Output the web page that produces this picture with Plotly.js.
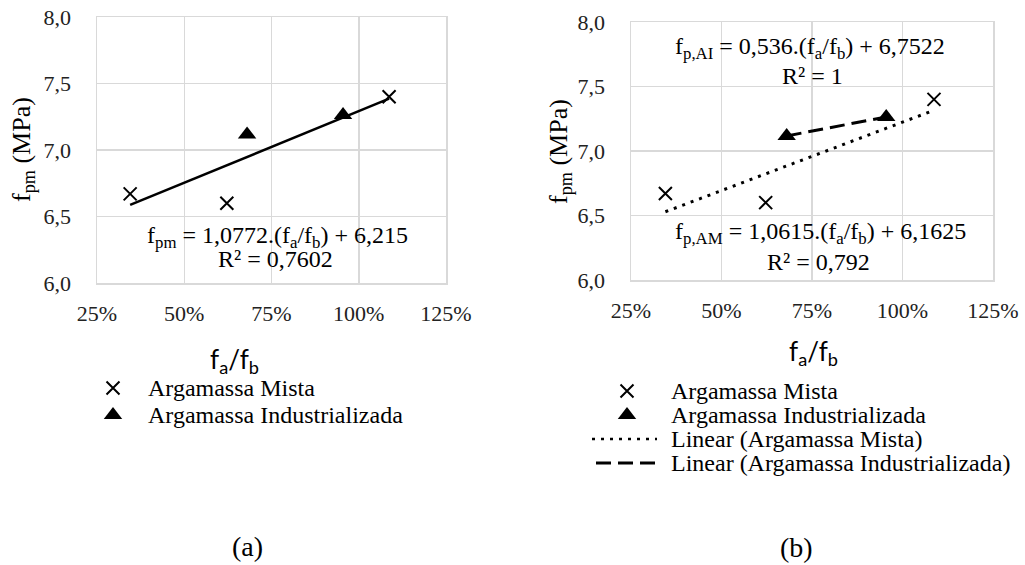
<!DOCTYPE html>
<html><head><meta charset="utf-8">
<script src="https://cdn.plot.ly/plotly-3.0.1.min.js"></script>
<style>html,body{margin:0;padding:0;background:#fff}</style>
</head><body><div id="c" style="width:1025px;height:565px"></div>
<script>
// data
var mistaX = [0.345, 0.622, 1.087];
var mistaY = [6.67, 6.60, 7.40];
var indX = [0.68, 0.955];
var indY = [7.117, 7.264];
// trend line end points (from the printed equations)
var trendAllX = [0.345, 1.087];
var trendAllY = [6.587, 7.386];
var trendMistaX = [0.345, 1.087];
var trendMistaY = [6.529, 7.316];
var trendIndX = [0.68, 0.955];
var trendIndY = [7.117, 7.264];
var xTicks = [0.25, 0.5, 0.75, 1.0, 1.25];
var yTicks = [6.0, 6.5, 7.0, 7.5, 8.0];
var legendNames = ["Argamassa Mista", "Argamassa Industrializada", "Linear (Argamassa Mista)", "Linear (Argamassa Industrializada)"];

var W = 1025, H = 565;
function fx(p){return p/W;}
function fy(p){return 1-p/H;}
var SERIF = "Liberation Serif, Times New Roman, serif";
var grid = "#d9d9d9";
var DOT = "3px,6px";
var DASH = "15px,7px";

var mX = {symbol:"x-thin", size:13, line:{width:2, color:"#000"}, color:"#000"};
var mT = {symbol:"triangle-up", size:16, color:"#000"};

var traces = [
  {x:trendAllX, y:trendAllY, xaxis:"x", yaxis:"y", mode:"lines", line:{color:"#000", width:2.5}, showlegend:false, hoverinfo:"skip"},
  {x:mistaX, y:mistaY, xaxis:"x", yaxis:"y", mode:"markers", marker:mX, name:legendNames[0], showlegend:false},
  {x:indX, y:indY, xaxis:"x", yaxis:"y", mode:"markers", marker:mT, name:legendNames[1], showlegend:false},
  {x:trendMistaX, y:trendMistaY, xaxis:"x2", yaxis:"y2", mode:"lines", line:{color:"#000", width:3, dash:DOT}, showlegend:false, hoverinfo:"skip"},
  {x:trendIndX, y:trendIndY, xaxis:"x2", yaxis:"y2", mode:"lines", line:{color:"#000", width:3, dash:DASH}, showlegend:false, hoverinfo:"skip"},
  {x:mistaX, y:mistaY, xaxis:"x2", yaxis:"y2", mode:"markers", marker:mX, name:legendNames[0], showlegend:false},
  {x:indX, y:indY, xaxis:"x2", yaxis:"y2", mode:"markers", marker:mT, name:legendNames[1], showlegend:false},
  // legend keys (drawn on a pixel overlay axis)
  {x:[113, 627], y:[388, 391], xaxis:"x3", yaxis:"y3", mode:"markers", marker:mX, showlegend:false, hoverinfo:"skip"},
  {x:[113, 627], y:[415, 415], xaxis:"x3", yaxis:"y3", mode:"markers", marker:mT, showlegend:false, hoverinfo:"skip"},
  {x:[592, 657], y:[439, 439], xaxis:"x3", yaxis:"y3", mode:"lines", line:{color:"#000", width:2.5, dash:DOT}, showlegend:false, hoverinfo:"skip"},
  {x:[596, 656], y:[463, 463], xaxis:"x3", yaxis:"y3", mode:"lines", line:{color:"#000", width:3, dash:DASH}, showlegend:false, hoverinfo:"skip"}
];

function xax(dom){return {domain:dom, range:[0.25,1.25], tickvals:xTicks, tickformat:".0%", showgrid:true, gridcolor:grid, gridwidth:1.5,
  showline:true, mirror:true, linecolor:grid, linewidth:1.5, zeroline:false, ticks:"", ticklabelstandoff:10,
  tickfont:{family:SERIF, size:22, color:"#222"}, fixedrange:true};}
function yax(dom){return {domain:dom, range:[6.0,8.0], tickvals:yTicks, tickformat:".1f", showgrid:true, gridcolor:grid, gridwidth:1.5,
  showline:true, mirror:true, linecolor:grid, linewidth:1.5, zeroline:false, ticks:"", ticklabelstandoff:20,
  tickfont:{family:SERIF, size:22, color:"#222"}, fixedrange:true};}

function ann(x, y, text, size, font, extra){
  var a = {xref:"paper", yref:"paper", x:fx(x), y:fy(y), text:text, showarrow:false, xanchor:"center", yanchor:"middle",
    font:{family:font||SERIF, size:size, color:"#000"}};
  if (extra) for (var k in extra) a[k]=extra[k];
  return a;
}

var annotations = [
  ann(23, 150, "f<sub>pm</sub> (MPa)", 26, SERIF, {textangle:-90}),
  ann(560, 152, "f<sub>pm</sub> (MPa)", 26, SERIF, {textangle:-90}),
  ann(234, 360, "f<sub>a</sub>/f<sub>b</sub>", 26, "Lato, Open Sans, sans-serif"),
  ann(813, 352, "f<sub>a</sub>/f<sub>b</sub>", 26, "Lato, Open Sans, sans-serif"),
  ann(277, 237, "f<sub>pm</sub> = 1,0772.(f<sub>a</sub>/f<sub>b</sub>) + 6,215", 24),
  ann(275, 259, "R² = 0,7602", 24),
  ann(810, 48, "f<sub>p,AI</sub> = 0,536.(f<sub>a</sub>/f<sub>b</sub>) + 6,7522", 24),
  ann(812, 76, "R² = 1", 24),
  ann(820, 233, "f<sub>p,AM</sub> = 1,0615.(f<sub>a</sub>/f<sub>b</sub>) + 6,1625", 24),
  ann(818, 262, "R² = 0,792", 24),
  ann(146, 388, legendNames[0], 24, SERIF, {xanchor:"left"}),
  ann(146, 415, legendNames[1], 24, SERIF, {xanchor:"left"}),
  ann(669, 391, legendNames[0], 24, SERIF, {xanchor:"left"}),
  ann(669, 415, legendNames[1], 24, SERIF, {xanchor:"left"}),
  ann(669, 439, legendNames[2], 24, SERIF, {xanchor:"left"}),
  ann(669, 463, legendNames[3], 24, SERIF, {xanchor:"left"}),
  ann(247, 546, "(a)", 28),
  ann(796, 547, "(b)", 28)
];

var layout = {
  width:W, height:H, margin:{l:0, r:0, t:0, b:0}, paper_bgcolor:"#fff", plot_bgcolor:"rgba(0,0,0,0)",
  separators:",.", showlegend:false,
  xaxis: Object.assign(xax([fx(97), fx(446)]), {anchor:"y"}),
  yaxis: Object.assign(yax([fy(283), fy(17)]), {anchor:"x"}),
  xaxis2: Object.assign(xax([fx(631), fx(993)]), {anchor:"y2"}),
  yaxis2: Object.assign(yax([fy(280), fy(22)]), {anchor:"x2"}),
  xaxis3: {domain:[0,1], range:[0,W], visible:false, anchor:"y3", fixedrange:true},
  yaxis3: {domain:[0,1], range:[H,0], visible:false, anchor:"x3", fixedrange:true},
  annotations: annotations
};
Plotly.newPlot("c", traces, layout, {displayModeBar:false, staticPlot:true});
</script></body></html>
